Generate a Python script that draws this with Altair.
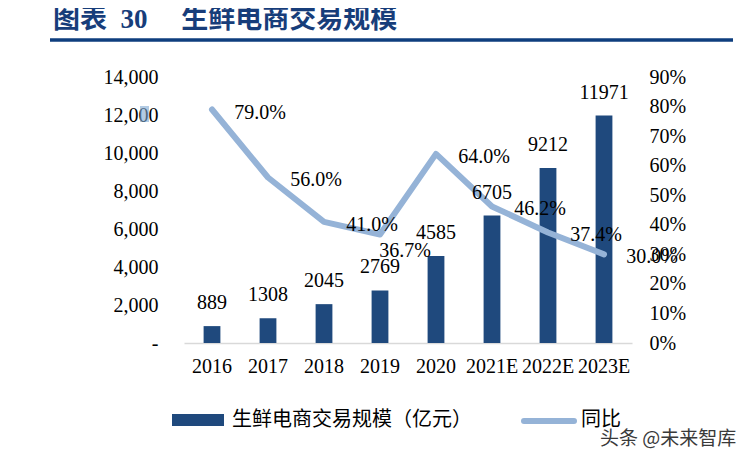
import altair as alt
import pandas as pd

years = ["2016", "2017", "2018", "2019", "2020", "2021E", "2022E", "2023E"]
scale_vals = [889, 1308, 2045, 2769, 4585, 6705, 9212, 11971]
growth = [79.0, 56.0, 41.0, 36.7, 64.0, 46.2, 37.4, 30.0]
left_ticks = [0, 2000, 4000, 6000, 8000, 10000, 12000, 14000]
right_ticks = [0, 10, 20, 30, 40, 50, 60, 70, 80, 90]

title_text = "图表\u00a0\u00a030\u00a0\u00a0\u00a0\u00a0\u00a0生鲜电商交易规模"
legend_bar = "生鲜电商交易规模（亿元）"
legend_line = "同比"
watermark = "头条 @未来智库"

df = pd.DataFrame({"year": years, "scale": scale_vals, "growth": growth})
df["growth_label"] = [f"{v:.1f}%" for v in growth]

SERIF = "Liberation Serif, Noto Sans CJK SC"
NAVY = "#0E3E7E"
BAR = "#1F497D"
LINE = "#95B3D7"

x = alt.X(
    "year:N",
    sort=years,
    scale=alt.Scale(paddingInner=0.7, paddingOuter=0.35),
    axis=alt.Axis(
        title=None, labelAngle=0, ticks=False, domainColor="#D9D9D9",
        domainWidth=1.5, labelPadding=13, labelFontSize=20, labelFont=SERIF,
        labelColor="black",
    ),
)

left_scale = alt.Scale(domain=[0, 14000])
right_scale = alt.Scale(domain=[0, 90])

y_left = alt.Y(
    "scale:Q", scale=left_scale,
    axis=alt.Axis(
        title=None, orient="left", values=left_ticks, grid=False, domain=False,
        ticks=False, labelPadding=26, labelFontSize=20, labelFont=SERIF,
        labelColor="black",
        labelExpr="datum.value == 0 ? '-' : format(datum.value, ',')",
    ),
)
y_right = alt.Y(
    "growth:Q", scale=right_scale,
    axis=alt.Axis(
        title=None, orient="right", values=right_ticks, grid=False,
        domain=False, ticks=False, labelPadding=17, labelFontSize=20,
        labelFont=SERIF, labelColor="black", labelExpr="datum.value + '%'",
    ),
)

bars = alt.Chart(df).mark_bar(color=BAR).encode(x=x, y=y_left)
line = alt.Chart(df).mark_line(
    color=LINE, strokeWidth=6, strokeCap="round", strokeJoin="round"
).encode(x=x, y=y_right)

bar_labels = alt.Chart(df).mark_text(
    dy=-23, fontSize=20, font=SERIF, color="black", baseline="middle"
).encode(
    x=x, y=alt.Y("scale:Q", scale=left_scale, axis=None),
    text=alt.Text("scale:Q", format="d"),
)
line_labels = alt.Chart(df).transform_filter(
    alt.datum.year != "2019"
).mark_text(dx=48, dy=3, fontSize=20, font=SERIF, color="black",
            baseline="middle").encode(
    x=x, y=alt.Y("growth:Q", scale=right_scale, axis=None),
    text="growth_label:N",
)
line_labels_19 = alt.Chart(df).transform_filter(
    alt.datum.year == "2019"
).mark_text(dx=25, dy=16, fontSize=20, font=SERIF, color="black",
            baseline="middle").encode(
    x=x, y=alt.Y("growth:Q", scale=right_scale, axis=None),
    text="growth_label:N",
)

deco = alt.Chart(pd.DataFrame({"k": [0]}))
top_rule = deco.mark_rule(color=NAVY, strokeWidth=3.5).encode(
    x=alt.value(-134), x2=alt.value(549), y=alt.value(-37))
bottom_rule = deco.mark_rule(color=NAVY, strokeWidth=3.5).encode(
    x=alt.value(-134), x2=alt.value(550), y=alt.value(382))
title = deco.mark_text(
    align="left", baseline="middle", fontSize=27, fontWeight="bold",
    font=SERIF, color="#173D7A"
).encode(x=alt.value(-131), y=alt.value(-57), text=alt.value(title_text))
sw_bar = deco.mark_rect(color=BAR).encode(
    x=alt.value(-12), x2=alt.value(40), y=alt.value(337), y2=alt.value(349))
lg_bar = deco.mark_text(
    align="left", baseline="middle", fontSize=20, font=SERIF, color="black"
).encode(x=alt.value(48), y=alt.value(343), text=alt.value(legend_bar))
sw_line = deco.mark_rule(color=LINE, strokeWidth=6, strokeCap="round").encode(
    x=alt.value(340), x2=alt.value(390), y=alt.value(344))
lg_line = deco.mark_text(
    align="left", baseline="middle", fontSize=20, font=SERIF, color="black"
).encode(x=alt.value(397), y=alt.value(343), text=alt.value(legend_line))
wm = deco.mark_text(
    align="left", baseline="middle", fontSize=19, font="Noto Sans CJK SC",
    color="#3A3A3A"
).encode(x=alt.value(416), y=alt.value(362), text=alt.value(watermark))
hl = deco.mark_rect(color="#7FA8D2", opacity=0.6).encode(
    x=alt.value(-44), x2=alt.value(-35), y=alt.value(29), y2=alt.value(45))

chart = alt.layer(
    bars, line, bar_labels, line_labels, line_labels_19,
    top_rule, bottom_rule, title, sw_bar, lg_bar, sw_line, lg_line, wm, hl
).resolve_scale(y="independent").properties(
    width=448, height=266,
    autosize=alt.AutoSizeParams(type="none"),
    padding={"left": 176, "top": 69, "right": 113, "bottom": 112},
    background="white",
).configure_view(stroke=None)

chart.save("out.html", embed_options={"renderer": "svg", "actions": False})
